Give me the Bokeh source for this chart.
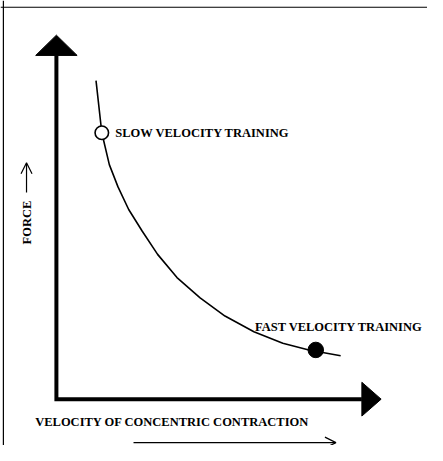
import math
from bokeh.plotting import figure
from bokeh.models import Range1d, Span, Label, Arrow, OpenHead
from bokeh.embed import file_html
from bokeh.resources import INLINE

# ---- data (arbitrary units: velocity of concentric contraction vs force) ----
velocity = [1.37, 1.57, 1.83, 2.13, 2.50, 2.97, 3.50, 4.17, 4.97, 5.83, 6.83, 7.83, 8.73, 9.83]
force = [11.0, 9.2, 8.1, 7.33, 6.55, 5.80, 5.00, 4.20, 3.50, 2.87, 2.33, 1.93, 1.70, 1.50]

slow_point = (1.57, 9.2)
fast_point = (8.97, 1.70)

x_axis_end = 11.23   # tip of velocity axis arrow
y_axis_end = 12.57   # tip of force axis arrow

slow_label = "SLOW VELOCITY TRAINING"
fast_label = "FAST VELOCITY TRAINING"
x_label = "VELOCITY OF CONCENTRIC CONTRACTION"
y_label = "FORCE"

FONT = "Liberation Serif"
U = 1 / 30.0  # data units per reference pixel

p = figure(width=427, height=445, output_backend="svg", toolbar_location=None,
           x_range=Range1d(-58 * U, 385 * U), y_range=Range1d(-48 * U, 413 * U),
           x_axis_type=None, y_axis_type=None, min_border=0,
           background_fill_color="white", border_fill_color="white")
p.outline_line_color = None
p.grid.visible = False

# frame (top and left)
p.add_layout(Span(location=-55 * U, dimension="height", line_color="black", line_width=1.2))
p.add_layout(Span(location=406 * U, dimension="width", line_color="black", line_width=1.2))

# axes
head_len_y, head_half_y = 21 * U, 21.5 * U
head_len_x, head_half_x = 20 * U, 17.5 * U
p.line([0, 0, x_axis_end - head_len_x], [y_axis_end - head_len_y, 0, 0],
       line_color="black", line_width=4, line_join="miter")
p.patches(
    xs=[[-head_half_y, head_half_y, 0],
        [x_axis_end - head_len_x, x_axis_end - head_len_x, x_axis_end]],
    ys=[[y_axis_end - head_len_y, y_axis_end - head_len_y, y_axis_end],
        [-head_half_x, head_half_x, 0]],
    fill_color="black", line_color="black", line_width=1)

# curve
p.line(velocity, force, line_color="black", line_width=1.6)

# points
p.scatter([slow_point[0]], [slow_point[1]], size=13.5, fill_color="white",
          line_color="black", line_width=1.6)
p.scatter([fast_point[0]], [fast_point[1]], size=15.5, fill_color="black",
          line_color="black", line_width=1)

# labels
common = dict(text_font=FONT, text_font_style="bold", text_font_size="12.5px",
              text_color="black")
p.add_layout(Label(x=slow_point[0] + 14 * U, y=slow_point[1] - 0.5 * U,
                   text=slow_label, text_align="left", text_baseline="middle", **common))
p.add_layout(Label(x=206 * U, y=75 * U, text=fast_label, text_align="left",
                   text_baseline="middle", **common))
p.add_layout(Label(x=-22 * U, y=-24 * U, text=x_label, text_align="left",
                   text_baseline="middle", **common))
p.add_layout(Label(x=-30 * U, y=183 * U, text=y_label, angle=math.pi / 2,
                   text_align="center", text_baseline="middle", **common))

# small arrows next to axis titles
p.add_layout(Arrow(end=OpenHead(size=11, line_width=1.2, line_color="black"),
                   x_start=-31 * U, y_start=214 * U, x_end=-31 * U, y_end=245 * U,
                   line_color="black", line_width=1.2))
p.add_layout(Arrow(end=OpenHead(size=11, line_width=1.2, line_color="black"),
                   x_start=80 * U, y_start=-45 * U, x_end=290 * U, y_end=-45 * U,
                   line_color="black", line_width=1.2))

open("out.html", "w").write(file_html(p, INLINE))
